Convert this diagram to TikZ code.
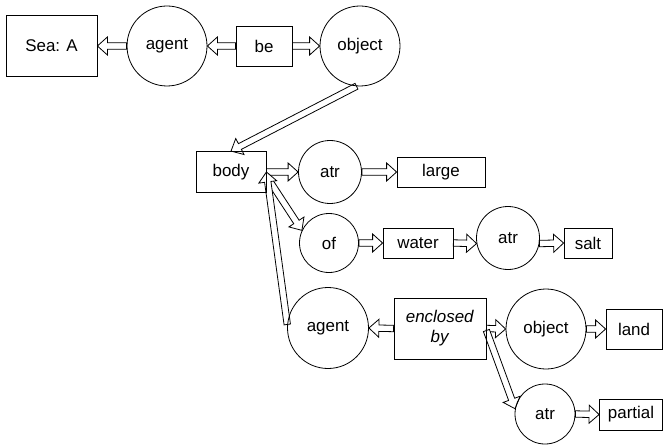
\documentclass[tikz,border=0pt]{standalone}
\usepackage{fontspec}
\setmainfont{Liberation Sans}
\usetikzlibrary{calc,backgrounds}
\def\px{0.75pt}
\tikzset{x=\px,y=\px}
\tikzset{Box/.style={draw, rectangle, inner sep=0pt, line width=0.6pt, align=center},
         Role/.style={draw, circle, inner sep=0pt, line width=0.6pt},
         Hollow/.style={draw, fill=white, line width=0.6pt, line join=miter}}
\def\shaft{3.2}
\def\head{9}
\def\headlen{10}

% block arrow with an open head, from #1 to #2
\newcommand{\hollowarrow}[2]{%
  \draw[Hollow] let \p1=(#1), \p2=(#2), \n1={atan2(\y2-\y1,\x2-\x1)} in
    ($(#1)+(\n1+90:\shaft)$) -- ($(#2)+(\n1+180:\headlen)+(\n1+90:\shaft)$)
    -- ($(#2)+(\n1+180:\headlen)+(\n1+90:\head)$) -- (#2)
    -- ($(#2)+(\n1+180:\headlen)+(\n1-90:\head)$)
    -- ($(#2)+(\n1+180:\headlen)+(\n1-90:\shaft)$)
    -- ($(#1)+(\n1-90:\shaft)$) -- cycle;}

\begin{document}
\begin{tikzpicture}[font=\fontsize{12.7pt}{15pt}\selectfont]

\useasboundingbox (0,0) rectangle (666,-445);

% top row
\node[Box, minimum width=91*\px, minimum height=61*\px] (sea) at (51.5,-46) {Sea: A};
\node[Role, minimum size=80*\px] (agent1) at (167,-46) {agent};
\node[Box, minimum width=56*\px, minimum height=40*\px] (be) at (264,-46) {be};
\node[Role, minimum size=80*\px] (object1) at (360,-46) {object};

% body and its attributes
\node[Box, minimum width=70*\px, minimum height=41*\px] (body) at (231,-172) {body};
\node[Role, minimum size=63*\px] (atr1) at (330,-172) {atr};
\node[Box, minimum width=88*\px, minimum height=30*\px] (large) at (441,-172) {large};

\node[Role, minimum size=59*\px] (of) at (329,-243) {of};
\node[Box, minimum width=70*\px, minimum height=30*\px] (water) at (418,-243) {water};
\node[Role, minimum size=63*\px] (atr2) at (508,-238) {atr};
\node[Box, minimum width=48*\px, minimum height=30*\px] (salt) at (588,-243) {salt};

% enclosed by
\node[Role, minimum size=81*\px] (agent2) at (328,-328) {agent};
\node[Box, minimum width=92*\px, minimum height=61*\px] (encl) at (440,-328.5) {\textit{enclosed}\\\textit{by}};
\node[Role, minimum size=80*\px] (object2) at (546,-329) {object};
\node[Box, minimum width=56*\px, minimum height=40*\px] (land) at (634,-329) {land};
\node[Role, minimum size=60*\px] (atr3) at (545,-414) {atr};
\node[Box, minimum width=63*\px, minimum height=31*\px] (partial) at (631,-414.5) {partial};

\coordinate (bodyport) at ($(body.east)+(0,-4)$);
\coordinate (enclport) at ($(encl.east)+(0,-2)$);

\begin{pgfonlayer}{background}
\hollowarrow{agent1.west}{sea.east}
\hollowarrow{be.west}{agent1.east}
\hollowarrow{be.east}{object1.west}
\hollowarrow{object1.265}{body.north}

\hollowarrow{body.east}{atr1.west}
\hollowarrow{atr1.east}{large.west}
\hollowarrow{bodyport}{of.155}
\hollowarrow{of.east}{water.west}
\hollowarrow{water.east}{atr2.190}
\hollowarrow{atr2.350}{salt.west}

\hollowarrow{agent2.175}{body.east}
\hollowarrow{encl.west}{agent2.east}
\hollowarrow{encl.east}{object2.west}
\hollowarrow{object2.east}{land.west}
\hollowarrow{enclport}{atr3.170}
\hollowarrow{atr3.east}{partial.west}
\end{pgfonlayer}

\end{tikzpicture}
\end{document}
